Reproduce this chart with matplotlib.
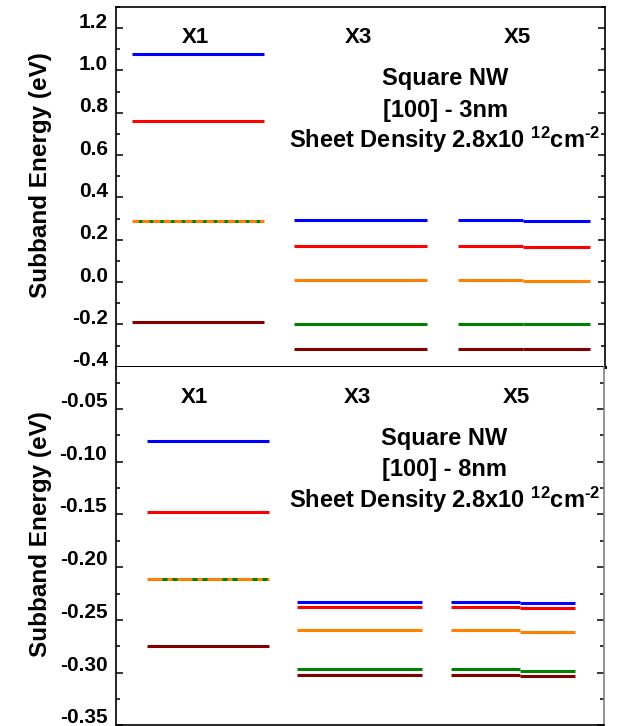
import matplotlib
matplotlib.use("Agg")
import matplotlib.pyplot as plt
from matplotlib.ticker import MultipleLocator
from matplotlib.transforms import ScaledTranslation

plt.rcParams['font.family'] = ['Liberation Sans', 'DejaVu Sans']
plt.rcParams['font.weight'] = 'bold'
plt.rcParams['mathtext.fontset'] = 'custom'
plt.rcParams['mathtext.rm'] = 'Liberation Sans:bold'
plt.rcParams['mathtext.bf'] = 'Liberation Sans:bold'
plt.rcParams['mathtext.default'] = 'rm'
plt.rcParams['lines.scale_dashes'] = False

# ---------------- data ----------------
categories = ["X1", "X3", "X5"]
level_colors = ["#0000ff", "#ff0000", "#ff8000", "#008000", "#800000"]

# 3 nm wire (top panel): subband energies (eV), levels 1..5
top_x1 = [1.08, 0.76, 0.29, 0.29, -0.19]
top_x3 = [0.291, 0.170, 0.011, -0.199, -0.314]
top_x5_left = [0.291, 0.170, 0.011, -0.199, -0.314]
top_x5_right = [0.287, 0.165, 0.006, -0.200, -0.315]

# 8 nm wire (bottom panel)
bot_x1 = [-0.080, -0.148, -0.211, -0.211, -0.275]
bot_x3 = [-0.233, -0.238, -0.260, -0.297, -0.302]
bot_x5_left = [-0.233, -0.238, -0.260, -0.297, -0.302]
bot_x5_right = [-0.234, -0.239, -0.261, -0.298, -0.303]

top_title = ["Square NW", "[100] - 3nm", r"Sheet Density 2.8x10 $^{12}$cm$^{\text{-2}}$"]
bot_title = ["Square NW", "[100] - 8nm", r"Sheet Density 2.8x10 $^{12}$cm$^{\text{-2}}$"]
ylabel = "Subband Energy (eV)"

top_ticks = [-0.4, -0.2, 0.0, 0.2, 0.4, 0.6, 0.8, 1.0, 1.2]
top_ticklabels = ["-0.4", "-0.2", "0.0", "0.2", "0.4", "0.6", "0.8", "1.0", "1.2"]
bot_ticks = [-0.35, -0.30, -0.25, -0.20, -0.15, -0.10, -0.05]
bot_ticklabels = ["-0.35", "-0.30", "-0.25", "-0.20", "-0.15", "-0.10", "-0.05"]

# ---------------- layout ----------------
W, H = 624, 726
fig = plt.figure(figsize=(W / 100, H / 100), dpi=100)

def px_axes(l, t, r, b):
    return fig.add_axes([l / W, 1 - b / H, (r - l) / W, (b - t) / H])

ax_top = px_axes(116, 7, 605, 366.7)
ax_bot = px_axes(115.7, 366.7, 604, 725.4)

top_layout = dict(x1=(0.0327, 0.3027), x3=(0.364, 0.636), x5=(0.699, 0.832, 0.969),
                  dash=(3.0, (2.4, 5.3)))
bot_layout = dict(x1=(0.0641, 0.314), x3=(0.372, 0.627), x5=(0.687, 0.828, 0.940),
                  dash=(10.8, (3.6, 3.6, 3.6, 10.8)))

def draw_panel(ax, x1, x3, x5l, x5r, lay, ylim, major, minor, titles, ticks, ticklabels):
    lw = 2.2
    for i, c in enumerate(level_colors):
        if i == 3:
            # degenerate level at X1 drawn dashed over the orange one
            ax.hlines(x1[i], *lay['x1'], colors=c, lw=lw, linestyles=[lay['dash']], zorder=3)
        else:
            ax.hlines(x1[i], *lay['x1'], colors=c, lw=lw, zorder=2)
        ax.hlines(x3[i], *lay['x3'], colors=c, lw=lw)
        ax.hlines(x5l[i], lay['x5'][0], lay['x5'][1], colors=c, lw=lw)
        ax.hlines(x5r[i], lay['x5'][1], lay['x5'][2], colors=c, lw=lw)
    ax.set_xlim(0, 1)
    ax.set_ylim(*ylim)
    ax.set_xticks([])
    ax.set_yticks(ticks)
    ax.set_yticklabels(ticklabels)
    ax.yaxis.set_minor_locator(MultipleLocator(minor))
    ax.tick_params(axis='y', which='both', direction='in', left=True, right=True,
                   labelsize=15, pad=6, width=1.1)
    ax.tick_params(axis='y', which='major', length=5.3)
    ax.tick_params(axis='y', which='minor', length=3)
    for s in ax.spines.values():
        s.set_linewidth(1.2)
    for name, xc in zip(categories, [0.162, 0.495, 0.820]):
        ax.text(xc, 0.899, name, transform=ax.transAxes, ha='center', va='baseline',
                fontsize=16, fontweight='bold')
    for t, yy in zip(titles, [0.783, 0.695, 0.607]):
        ax.text(0.673, yy, t, transform=ax.transAxes, ha='center', va='baseline',
                fontsize=17, fontweight='bold')
    ax.set_ylabel(ylabel, fontsize=17.5, fontweight='bold')
    ax.yaxis.set_label_coords(-0.131, 0.534)

draw_panel(ax_top, top_x1, top_x3, top_x5_left, top_x5_right, top_layout,
           (-0.4, 1.3), 0.2, 0.1, top_title, top_ticks, top_ticklabels)
draw_panel(ax_bot, bot_x1, bot_x3, bot_x5_left, bot_x5_right, bot_layout,
           (-0.35, -0.01), 0.05, 0.025, bot_title, bot_ticks, bot_ticklabels)

ax_top.spines['bottom'].set_linewidth(2.2)
ax_bot.spines['top'].set_visible(False)
ax_bot.spines['right'].set_color('#808080')

# tick labels in the reference sit slightly above their ticks
for ax, dy in ((ax_top, 0.08), (ax_bot, 0.095)):
    shift = ScaledTranslation(0, dy, fig.dpi_scale_trans)
    for tk in ax.yaxis.get_major_ticks():
        tk.label1.set_transform(tk.label1.get_transform() + shift)
        tk.label1.set_fontweight('bold')

fig.savefig("out.png", dpi=100)
